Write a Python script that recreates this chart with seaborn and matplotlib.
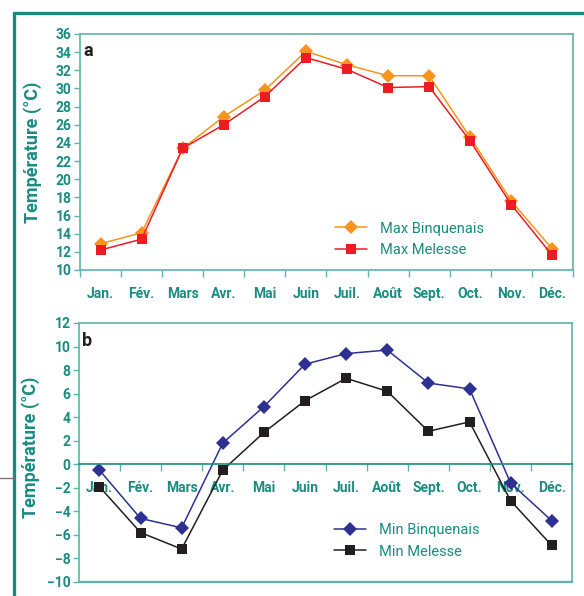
import numpy as np
import pandas as pd
import seaborn as sns
import matplotlib.pyplot as plt
from matplotlib.lines import Line2D

# données
mois = ["Jan.", "Fév.", "Mars", "Avr.", "Mai", "Juin", "Juil.", "Août", "Sept.", "Oct.", "Nov.", "Déc."]
max_binq = [12.9, 14.1, 23.4, 26.9, 29.8, 34.1, 32.6, 31.4, 31.4, 24.6, 17.6, 12.3]
max_mel = [12.2, 13.4, 23.4, 26.0, 29.1, 33.4, 32.1, 30.1, 30.2, 24.2, 17.2, 11.6]
min_binq = [-0.5, -4.6, -5.4, 1.8, 4.9, 8.5, 9.4, 9.7, 6.9, 6.4, -1.6, -4.8]
min_mel = [-1.9, -5.8, -7.2, -0.5, 2.7, 5.4, 7.3, 6.2, 2.8, 3.6, -3.1, -6.9]

teal = '#1a8c82'
spine_c = '#5fb3aa'

sns.set_style('white')
plt.rcParams['font.family'] = ['Roboto', 'DejaVu Sans']
plt.rcParams['font.stretch'] = 'condensed'

idx = np.arange(len(mois))
df_max = pd.DataFrame({'x': np.concatenate([idx, idx]),
                       'temp': max_binq + max_mel,
                       'serie': ['Max Binquenais'] * 12 + ['Max Melesse'] * 12})
df_min = pd.DataFrame({'x': np.concatenate([idx, idx]),
                       'temp': min_binq + min_mel,
                       'serie': ['Min Binquenais'] * 12 + ['Min Melesse'] * 12})

fig = plt.figure(figsize=(5.84, 5.96), dpi=100)
ax1 = fig.add_axes([0.137, 0.547, 0.844, 0.396])
ax2 = fig.add_axes([0.135, 0.0235, 0.845, 0.4346])


def draw(ax, df, pal, ylim, step, lab, ybox):
    sns.lineplot(data=df, x='x', y='temp', hue='serie', style='serie', palette=pal,
                 markers=['D', 's'], dashes=False, markersize=7.5, markeredgewidth=0,
                 linewidth=1.1, ax=ax)
    ax.set_xlim(-0.5, 11.5)
    ax.set_ylim(*ylim)
    ax.set_yticks(np.arange(ylim[0], ylim[1] + 1, step))
    ax.set_xticks(np.arange(-0.5, 12, 1))
    ax.set_xticklabels([])
    ax.set_xticks(idx, minor=True)
    ax.set_xticklabels(mois, minor=True)
    ax.tick_params(axis='x', which='major', direction='out', length=5, width=1, color=spine_c, bottom=True)
    ax.tick_params(axis='x', which='minor', length=0, pad=12, labelsize=10, labelcolor=teal)
    ax.tick_params(axis='y', direction='out', length=4, width=1, color=spine_c, left=True,
                   labelsize=10, labelcolor=teal, pad=2)
    for s in ax.spines.values():
        s.set_color(spine_c)
        s.set_linewidth(1.2)
    ax.set_xlabel('')
    ax.set_ylabel('Température (°C)', color=teal, fontsize=13, fontweight='bold')
    ax.text(0.006, 0.965, lab, transform=ax.transAxes, fontsize=13, fontweight='bold',
            color='#231f20', va='top', ha='left')
    leg = ax.legend(loc='lower left', bbox_to_anchor=(0.49, ybox), frameon=False, fontsize=10.5,
                    handlelength=2.2, handletextpad=0.9, labelspacing=0.5)
    for t in leg.get_texts():
        t.set_color(teal)


draw(ax1, df_max, ['#f7941d', '#ed1c24'], (10, 36), 2, 'a', 0.0)
draw(ax2, df_min, ['#2e3192', '#231f20'], (-10, 12), 2, 'b', 0.04)

# axe des x sur la ligne zéro
ax2.spines['bottom'].set_position(('data', 0))
ax2.axhline(-10, color=spine_c, lw=1.6, clip_on=False)
ax2.spines['bottom'].set_color(teal)

ax1.yaxis.set_label_coords(-0.078, 0.5)
ax2.yaxis.set_label_coords(-0.078, 0.52)
for ax in (ax1, ax2):
    for t in ax.get_xticklabels(minor=True) + ax.get_yticklabels():
        t.set_fontweight('bold')

# cadre
fig.add_artist(Line2D([0.024, 0.024], [0.0, 0.978], color='#1a8a80', lw=2.4))
fig.add_artist(Line2D([0.024, 1.0], [0.978, 0.978], color='#1a8a80', lw=2.4))
fig.add_artist(Line2D([0.0, 0.024], [0.198, 0.198], color='#777777', lw=1))

plt.savefig('out.png', dpi=100)
